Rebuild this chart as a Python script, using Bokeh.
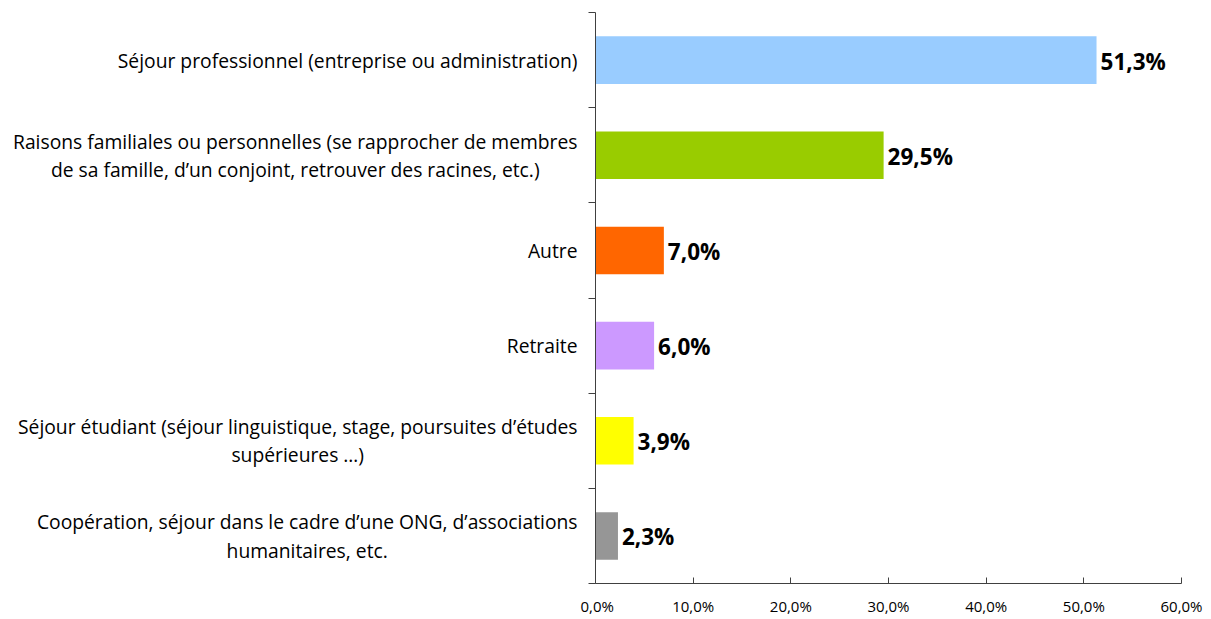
from bokeh.plotting import figure
from bokeh.layouts import row
from bokeh.models import FixedTicker, ColumnDataSource, Range1d
from bokeh.core.properties import value
from bokeh.embed import file_html
from bokeh.resources import INLINE

categories = [
    "Séjour professionnel (entreprise ou administration)",
    "Raisons familiales ou personnelles (se rapprocher de membres\nde sa famille, d’un conjoint, retrouver des racines, etc.)",
    "Autre",
    "Retraite",
    "Séjour étudiant (séjour linguistique, stage, poursuites d’études\nsupérieures …)",
    "Coopération, séjour dans le cadre d’une ONG, d’associations\nhumanitaires, etc.",
]
values = [51.3, 29.5, 7.0, 6.0, 3.9, 2.3]
value_labels = ["51,3%", "29,5%", "7,0%", "6,0%", "3,9%", "2,3%"]
colors = ["#99CCFF", "#99CC00", "#FF6600", "#CC99FF", "#FFFF00", "#969696"]
x_ticks = [0, 10, 20, 30, 40, 50, 60]
x_tick_labels = ["0,0%", "10,0%", "20,0%", "30,0%", "40,0%", "50,0%", "60,0%"]

FONT = "Open Sans"
n = len(categories)
ypos = [n - 0.5 - i for i in range(n)]
yr = Range1d(0, n)

LEFT_W = 580
H = 618
TOP = 12
BOTTOM = 35

# ---- left panel holding the category labels ----
lab_src = ColumnDataSource(dict(y=ypos, t=categories, x=[LEFT_W - 3] * n))
lp = figure(width=LEFT_W, height=H, output_backend="svg", toolbar_location=None,
            x_range=Range1d(0, LEFT_W), y_range=yr, x_axis_type=None, y_axis_type=None,
            min_border_left=0, min_border_right=0, min_border_top=TOP, min_border_bottom=BOTTOM)
lp.outline_line_color = None
lp.grid.grid_line_color = None
lp.text(x="x", y="y", text="t", source=lab_src, anchor="center_right",
        text_align="center", text_baseline="middle",
        text_font=value(FONT), text_font_size="19.3px", text_color="black",
        text_line_height=1.05)

# ---- main chart ----
src = ColumnDataSource(dict(y=ypos, v=values, lab=value_labels, c=colors))
p = figure(width=1205 - LEFT_W, height=H, output_backend="svg", toolbar_location=None,
           x_range=Range1d(0, 60), y_range=yr,
           min_border_left=15, min_border_right=24, min_border_top=TOP, min_border_bottom=BOTTOM)
p.outline_line_color = None
p.grid.grid_line_color = None

p.hbar(y="y", right="v", left=0, height=0.5, fill_color="c", line_color=None, source=src)
p.text(x="v", y="y", text="lab", source=src, x_offset=4, y_offset=1,
       text_font=value(FONT), text_font_style="bold", text_font_size="22.5px",
       text_baseline="middle", text_align="left", text_color="black")

p.xaxis.ticker = FixedTicker(ticks=x_ticks)
p.xaxis.major_label_overrides = {t: l for t, l in zip(x_ticks, x_tick_labels)}
p.xaxis.major_label_text_font = FONT
p.xaxis.major_label_text_font_size = "15px"
p.xaxis.major_label_text_color = "black"
p.xaxis.major_tick_out = 0
p.xaxis.major_tick_in = 6
p.xaxis.minor_tick_line_color = None
p.xaxis.axis_line_color = "#404040"
p.xaxis.major_tick_line_color = "#404040"
p.xaxis.major_label_standoff = 12

p.yaxis.ticker = FixedTicker(ticks=[], minor_ticks=list(range(n + 1)))
p.yaxis.major_tick_out = 0
p.yaxis.major_tick_in = 0
p.yaxis.minor_tick_out = 7
p.yaxis.minor_tick_in = 0
p.yaxis.minor_tick_line_color = "#404040"
p.yaxis.axis_line_color = "#404040"

layout = row(lp, p, spacing=0)
open("out.html", "w").write(file_html(layout, INLINE))
